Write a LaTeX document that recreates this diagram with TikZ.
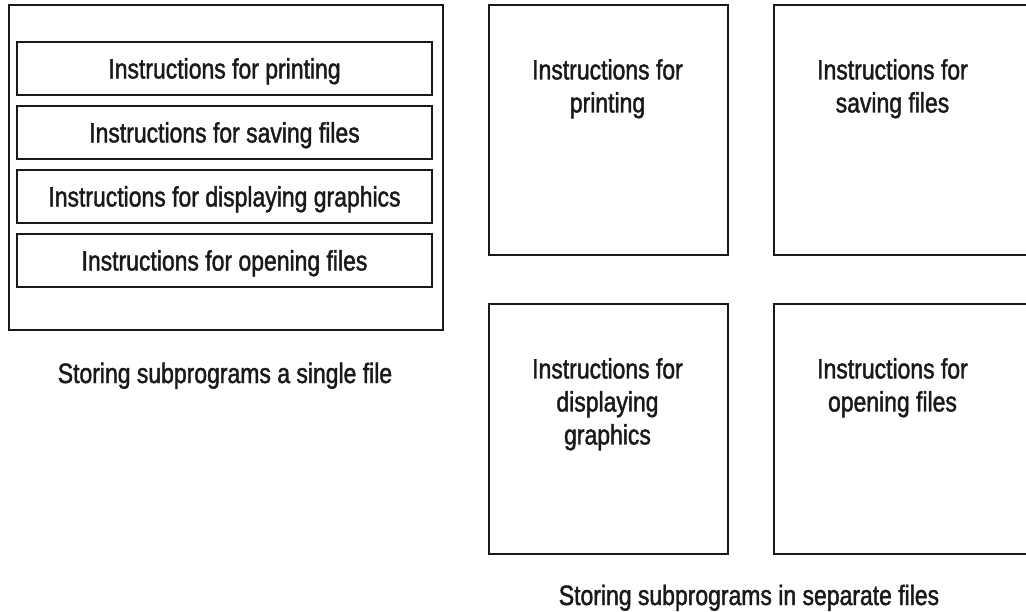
\documentclass[tikz,border=0pt]{standalone}
\usepackage{fontspec}
\setmainfont{Liberation Sans}[FakeStretch=0.82, FakeBold=1.5]
\begin{document}
\begin{tikzpicture}[x=1pt,y=-1pt,
  frame/.style={draw=black!90, line width=2pt},
  lbl/.style={font=\fontsize{28}{33}\selectfont, text=black!90, inner sep=0pt},
  inbox/.style={frame, lbl, minimum width=415pt, minimum height=53pt, text height=20pt, text depth=0pt},
  bigbox/.style={frame, minimum width=239pt, minimum height=250pt, anchor=north west, inner sep=0pt}]
\useasboundingbox (0,0) rectangle (1026,611);
\clip (0,0) rectangle (1026,611);
% left: single file
\node[frame, minimum width=434pt, minimum height=325pt, anchor=north west, inner sep=0pt] (single) at (8,4) {};
\node[inbox] (p1) at (224.5,68.5) {Instructions for printing};
\node[inbox] (p2) at (224.5,132.5) {Instructions for saving files};
\node[inbox] (p3) at (224.5,196.5) {Instructions for displaying graphics};
\node[inbox] (p4) at (224.5,260.5) {Instructions for opening files};
\node[lbl, anchor=base] (lsingle) at (225,383) {Storing subprograms a single file};
% right: separate files
\node[bigbox] (s1) at (488,4) {};
\node[frame, minimum width=280pt, minimum height=250pt, anchor=north west, inner sep=0pt] (s2) at (773,4) {};
\node[bigbox] (s3) at (488,303) {};
\node[frame, minimum width=280pt, minimum height=250pt, anchor=north west, inner sep=0pt] (s4) at (773,303) {};
\node[lbl, align=center, anchor=north] (t1) at (607.5,59) {Instructions for\\printing};
\node[lbl, align=center, anchor=north] (t2) at (892.5,59) {Instructions for\\saving files};
\node[lbl, align=center, anchor=north] (t3) at (607.5,358) {Instructions for\\displaying\\graphics};
\node[lbl, align=center, anchor=north] (t4) at (892.5,358) {Instructions for\\opening files};
\node[lbl, anchor=base] (lsep) at (749,605) {Storing subprograms in separate files};
\end{tikzpicture}
\end{document}
